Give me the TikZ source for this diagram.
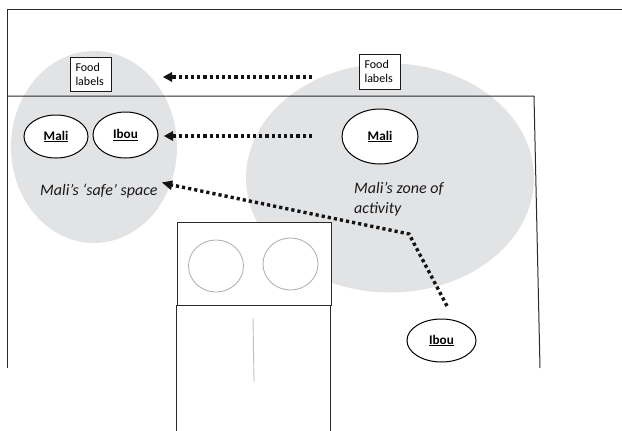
\documentclass[tikz,border=0pt]{standalone}
\usepackage{fontspec}
\setmainfont{Carlito}
\usetikzlibrary{arrows.meta,shapes.geometric}
\definecolor{zone}{HTML}{E2E3E5}
\definecolor{wall}{HTML}{2A2A2A}
\tikzset{
 x=1pt,y=-1pt,
 wallline/.style={draw=wall,line width=1pt},
 zonefill/.style={fill=zone,draw=none,ellipse,inner sep=0pt},
 person/.style={draw=black,fill=white,line width=1pt,ellipse,inner sep=0pt,font=\fontsize{13.2}{15}\selectfont\bfseries},
 foodbox/.style={draw=black!90,fill=white,line width=.9pt,inner sep=0pt,align=left,font=\fontsize{12}{14}\selectfont},
 caption/.style={inner sep=0pt,align=left,font=\fontsize{16}{20}\selectfont\itshape,text=black!90},
 hob/.style={draw=black!32,line width=.8pt,ellipse,inner sep=0pt},
 moveline/.style={draw=black!92,line width=3.4pt,dash pattern=on 3.2pt off 3pt},
 movehead/.style={fill=black!92,draw=none},
}
\newcommand{\nudge}[2]{\raisebox{-#1pt}{\underline{#2}}}
\begin{document}
\begin{tikzpicture}
\useasboundingbox (0,0) rectangle (622,431);
% activity zones
\node[zonefill,minimum width=166pt,minimum height=192pt] (safe) at (94,147) {};
\node[zonefill,minimum width=288pt,minimum height=229pt] (zone) at (390,178) {};
% walls
\coordinate (wa) at (622,9); \coordinate (wb) at (7,9); \coordinate (wc) at (7,368);
\coordinate (wd) at (7,96); \coordinate (we) at (534,96); \coordinate (wf) at (540,368);
\draw[wallline] (wa) -- (wb) -- (wc);
\draw[wallline] (wd) -- (we) -- (wf);
% bed
\node[draw=wall,fill=white,line width=.9pt,minimum width=154pt,minimum height=83pt,inner sep=0pt] (head) at (254,263.5) {};
\coordinate (ba) at (176.5,431); \coordinate (bb) at (176.5,305); \coordinate (bc) at (330.5,305); \coordinate (bd) at (330.5,431);
\draw[wallline] (ba) -- (bb) -- (bc) -- (bd);
\node[hob,minimum width=55pt,minimum height=52pt] (hobl) at (216,266) {};
\node[hob,minimum width=55pt,minimum height=52pt] (hobr) at (290.5,264) {};
\coordinate (pa) at (253,318); \coordinate (pb) at (254,382);
\draw[draw=black!25,line width=.9pt] (pa) -- (pb);
% labels
\node[foodbox,minimum width=41pt,minimum height=34pt,text width=30pt,align=left] (fl) at (90.5,74.5) {Food\\labels};
\node[foodbox,minimum width=41pt,minimum height=35pt,text width=30pt,align=left] (fr) at (379.5,71.5) {Food\\labels};
% people
\node[person,minimum width=64pt,minimum height=43pt] (mali1) at (56,136.5) {\nudge{1}{Mali}};
\node[person,minimum width=65pt,minimum height=46pt] (ibou1) at (125.5,135) {\nudge{2}{Ibou}};
\node[person,minimum width=76pt,minimum height=55pt] (mali2) at (380,136.5) {\nudge{1}{Mali}};
\node[person,minimum width=69pt,minimum height=43pt] (ibou2) at (441.5,340.5) {\nudge{1}{Ibou}};
% captions
\node[caption,anchor=west] (capl) at (40,191) {Mali’s ‘safe’ space};
\node[caption,anchor=north west] (capr) at (354,182) {Mali’s zone of\\activity};
% movements
\coordinate (a1s) at (312,77); \coordinate (a1e) at (172,77); \coordinate (a1t) at (163,77);
\coordinate (a2s) at (312,136); \coordinate (a2e) at (173,136); \coordinate (a2t) at (164,136);
\coordinate (a3s) at (447,306); \coordinate (a3m) at (409,234); \coordinate (a3e) at (172,185); \coordinate (a3t) at (162,182.5);
\draw[moveline] (a1s) -- (a1e);
\draw[moveline] (a2s) -- (a2e);
\draw[moveline] (a3s) -- (a3m) -- (a3e);
\fill[movehead] (a1t) -- (172,72) -- (172,82) -- cycle;
\fill[movehead] (a2t) -- (173,131) -- (173,141) -- cycle;
\fill[movehead] (a3t) -- (173,180.5) -- (171,190) -- cycle;
\end{tikzpicture}
\end{document}
